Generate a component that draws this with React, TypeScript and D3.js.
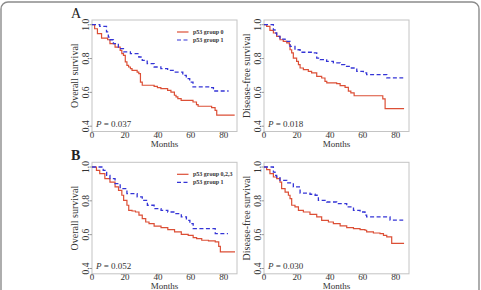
import React from 'react';
import * as d3 from 'd3';

type Pt = [number, number];

// Kaplan–Meier step points: [months, survival]
const osA0: Pt[] = [[0, 1], [1.6, 0.976], [3.3, 0.947], [5.8, 0.921], [9.5, 0.911], [10.9, 0.888], [14, 0.868], [17.1, 0.848], [18.1, 0.829], [19.1, 0.819], [20.2, 0.78], [21.2, 0.76], [22.2, 0.75], [23.3, 0.74], [24.3, 0.73], [27.4, 0.72], [28.4, 0.711], [29.4, 0.661], [30.5, 0.642], [37.7, 0.636], [39.7, 0.628], [41.8, 0.622], [45.9, 0.612], [47.9, 0.602], [50, 0.583], [51, 0.573], [52.1, 0.563], [54.1, 0.553], [61.3, 0.543], [63.4, 0.528], [64.4, 0.518], [72.6, 0.51], [74.7, 0.494], [75.7, 0.465], [86.6, 0.465]];
const osA1: Pt[] = [[0, 1], [4.7, 0.99], [8.8, 0.957], [9.9, 0.927], [10.9, 0.911], [13, 0.888], [16, 0.858], [19.1, 0.839], [23.3, 0.829], [28.4, 0.809], [30.5, 0.789], [33.5, 0.77], [37.7, 0.75], [41.8, 0.74], [45.9, 0.73], [50, 0.72], [55.1, 0.701], [57.2, 0.681], [59.3, 0.661], [61.3, 0.632], [72.6, 0.628], [73.7, 0.608], [82.9, 0.608]];
const dfsA0: Pt[] = [[0, 1], [1.6, 0.99], [3.6, 0.967], [5.7, 0.951], [7.7, 0.931], [9.7, 0.911], [11.7, 0.902], [13.8, 0.892], [15.4, 0.882], [15.8, 0.852], [16.8, 0.833], [17.8, 0.803], [19.8, 0.783], [20.9, 0.764], [21.9, 0.744], [23.9, 0.734], [26.9, 0.724], [28.9, 0.715], [32, 0.695], [35, 0.685], [37, 0.665], [38.1, 0.656], [44.1, 0.652], [46.2, 0.64], [49.2, 0.63], [51.2, 0.607], [52.7, 0.597], [54.7, 0.58], [72.1, 0.562], [73.5, 0.504], [85, 0.504]];
const dfsA1: Pt[] = [[0, 1], [5.7, 0.97], [6.7, 0.951], [7.7, 0.931], [9.7, 0.915], [12.8, 0.902], [15.8, 0.872], [18.8, 0.852], [21.9, 0.837], [30, 0.833], [32, 0.803], [34, 0.793], [38, 0.783], [42.1, 0.774], [46.2, 0.764], [49, 0.754], [52.2, 0.744], [56.3, 0.724], [60.3, 0.715], [62.3, 0.705], [74.5, 0.686], [84.5, 0.686]];
const osB0: Pt[] = [[0, 1], [2.7, 0.98], [4.7, 0.961], [7.8, 0.931], [10.9, 0.911], [14, 0.882], [16.1, 0.862], [18.1, 0.833], [19.2, 0.803], [21.2, 0.774], [22.3, 0.744], [24.3, 0.74], [26.4, 0.734], [28.5, 0.715], [30.5, 0.695], [32.6, 0.675], [34.6, 0.665], [37.7, 0.65], [41.9, 0.642], [46, 0.63], [50.1, 0.616], [54.2, 0.602], [58.4, 0.596], [61.4, 0.583], [63.5, 0.577], [66.6, 0.567], [70.7, 0.563], [74.8, 0.557], [76.9, 0.531], [77.9, 0.498], [86.8, 0.498]];
const osB1: Pt[] = [[0, 1], [4.7, 1], [6.8, 0.98], [8.9, 0.951], [10.9, 0.931], [14, 0.902], [17.1, 0.872], [21.2, 0.843], [27.4, 0.823], [30.5, 0.803], [33.6, 0.774], [37.7, 0.754], [41.9, 0.744], [46, 0.734], [50.1, 0.724], [54.2, 0.705], [57.3, 0.685], [59.4, 0.665], [61.4, 0.636], [74.8, 0.606], [82.5, 0.606]];
const dfsB0: Pt[] = [[0, 1], [1.6, 0.984], [3.6, 0.961], [5.7, 0.941], [7.7, 0.931], [9.7, 0.911], [10.7, 0.872], [12.8, 0.852], [14.8, 0.833], [15.8, 0.813], [16.8, 0.774], [18.8, 0.764], [20.9, 0.744], [23.9, 0.734], [27.9, 0.72], [32, 0.705], [35, 0.685], [39.1, 0.675], [42.1, 0.665], [46.2, 0.652], [50.2, 0.642], [54.3, 0.636], [58.3, 0.63], [61.3, 0.626], [62.3, 0.616], [66.4, 0.61], [70.4, 0.606], [72.5, 0.596], [74.5, 0.587], [77.5, 0.548], [85, 0.548]];
const dfsB1: Pt[] = [[0, 1], [5.7, 0.97], [6.7, 0.95], [7.7, 0.941], [9.7, 0.921], [13.8, 0.906], [17.8, 0.882], [21.9, 0.846], [27.9, 0.839], [31, 0.833], [33, 0.803], [38.1, 0.793], [44.1, 0.783], [50.2, 0.764], [54.3, 0.744], [58.3, 0.734], [61.3, 0.715], [62.3, 0.705], [76.5, 0.686], [84.5, 0.686]];

const xTicks = [0, 20, 40, 60, 80];
const yTicks = [0.4, 0.6, 0.8, 1.0];
const legendA = ['p53 group 0', 'p53 group 1'];
const legendB = ['p53 group 0,2,3', 'p53 group 1'];

const RED = '#dc4f36';
const BLUE = '#3434d6';
const FONT = '"Liberation Serif", "Times New Roman", serif';

interface PanelProps {
  left: number;
  top: number;
  red: Pt[];
  blue: Pt[];
  yTitle: string;
  pValue: string;
  legend?: string[];
}

const Panel = ({ left, top, red, blue, yTitle, pValue, legend }: PanelProps) => {
  const w = 145;
  const h = 111.5;
  const x = d3.scaleLinear().domain([0, 88]).range([left, left + w]);
  const y = d3.scaleLinear().domain([0.4, 1]).range([top + h - 5.3, top + 4.7]);
  const line = d3
    .line<Pt>()
    .x((d) => x(d[0]))
    .y((d) => y(d[1]))
    .curve(d3.curveStepAfter);
  const bottom = top + h;

  return (
    <g fontFamily={FONT}>
      <rect x={left} y={top} width={w} height={h} fill="none" stroke="#c4c4c4" strokeWidth={1} />
      {yTicks.map((t) => (
        <g key={t}>
          <line x1={left - 2.5} x2={left} y1={y(t)} y2={y(t)} stroke="#999" />
          <text
            transform={`translate(${left - 3.5},${y(t)}) rotate(-90)`}
            textAnchor="middle"
            fontSize={9.5}
            fill="#333"
          >
            {t.toFixed(1)}
          </text>
        </g>
      ))}
      {xTicks.map((t) => (
        <g key={t}>
          <line x1={x(t)} x2={x(t)} y1={bottom} y2={bottom + 2} stroke="#999" />
          <text x={x(t)} y={bottom + 6.5} textAnchor="middle" fontSize={9} fill="#333">
            {t}
          </text>
        </g>
      ))}
      <text x={left + w / 2} y={bottom + 15.3} textAnchor="middle" fontSize={9} fill="#333">
        Months
      </text>
      <text
        transform={`translate(${left - 14},${top + h / 2}) rotate(-90)`}
        textAnchor="middle"
        fontSize={10}
        fill="#333"
      >
        {yTitle}
      </text>
      <path d={line(red) ?? ''} fill="none" stroke={RED} strokeWidth={1.2} />
      <path d={line(blue) ?? ''} fill="none" stroke={BLUE} strokeWidth={1.3} strokeDasharray="4,2.5" />
      <text x={left + 4} y={bottom - 5} fontSize={9} fill="#333">
        <tspan fontStyle="italic">P</tspan> = {pValue}
      </text>
      {legend && (
        <g fontSize={6} fontWeight="bold" fill="#333">
          {legend.map((label, i) => (
            <g key={label} transform={`translate(${left + 85},${top + 12 + i * 8})`}>
              <line
                x1={0}
                x2={11.5}
                y1={0}
                y2={0}
                stroke={i === 0 ? RED : BLUE}
                strokeWidth={1.2}
                strokeDasharray={i === 0 ? undefined : '4,2.5'}
              />
              <text x={16} y={2}>{label}</text>
            </g>
          ))}
        </g>
      )}
    </g>
  );
};

const App = () => (
  <svg
    width={481}
    height={290}
    style={{ position: 'absolute', left: 0, top: 0, background: '#fff' }}
  >
    <rect x={1} y={2} width={478} height={320} rx={7} fill="#fff" stroke="#8c8c8c" strokeWidth={1.4} />
    <text x={71} y={17.5} fontFamily={FONT} fontSize={14} fill="#222">A</text>
    <text x={71} y={159.5} fontFamily={FONT} fontSize={14} fontWeight="bold" fill="#222">B</text>
    <Panel left={92} top={20} red={osA0} blue={osA1} yTitle="Overall survival" pValue="0.037" legend={legendA} />
    <Panel left={264} top={20} red={dfsA0} blue={dfsA1} yTitle="Disease-free survival" pValue="0.018" />
    <Panel left={92} top={162.3} red={osB0} blue={osB1} yTitle="Overall survival" pValue="0.052" legend={legendB} />
    <Panel left={264} top={162.3} red={dfsB0} blue={dfsB1} yTitle="Disease-free survival" pValue="0.030" />
  </svg>
);

export default App;
